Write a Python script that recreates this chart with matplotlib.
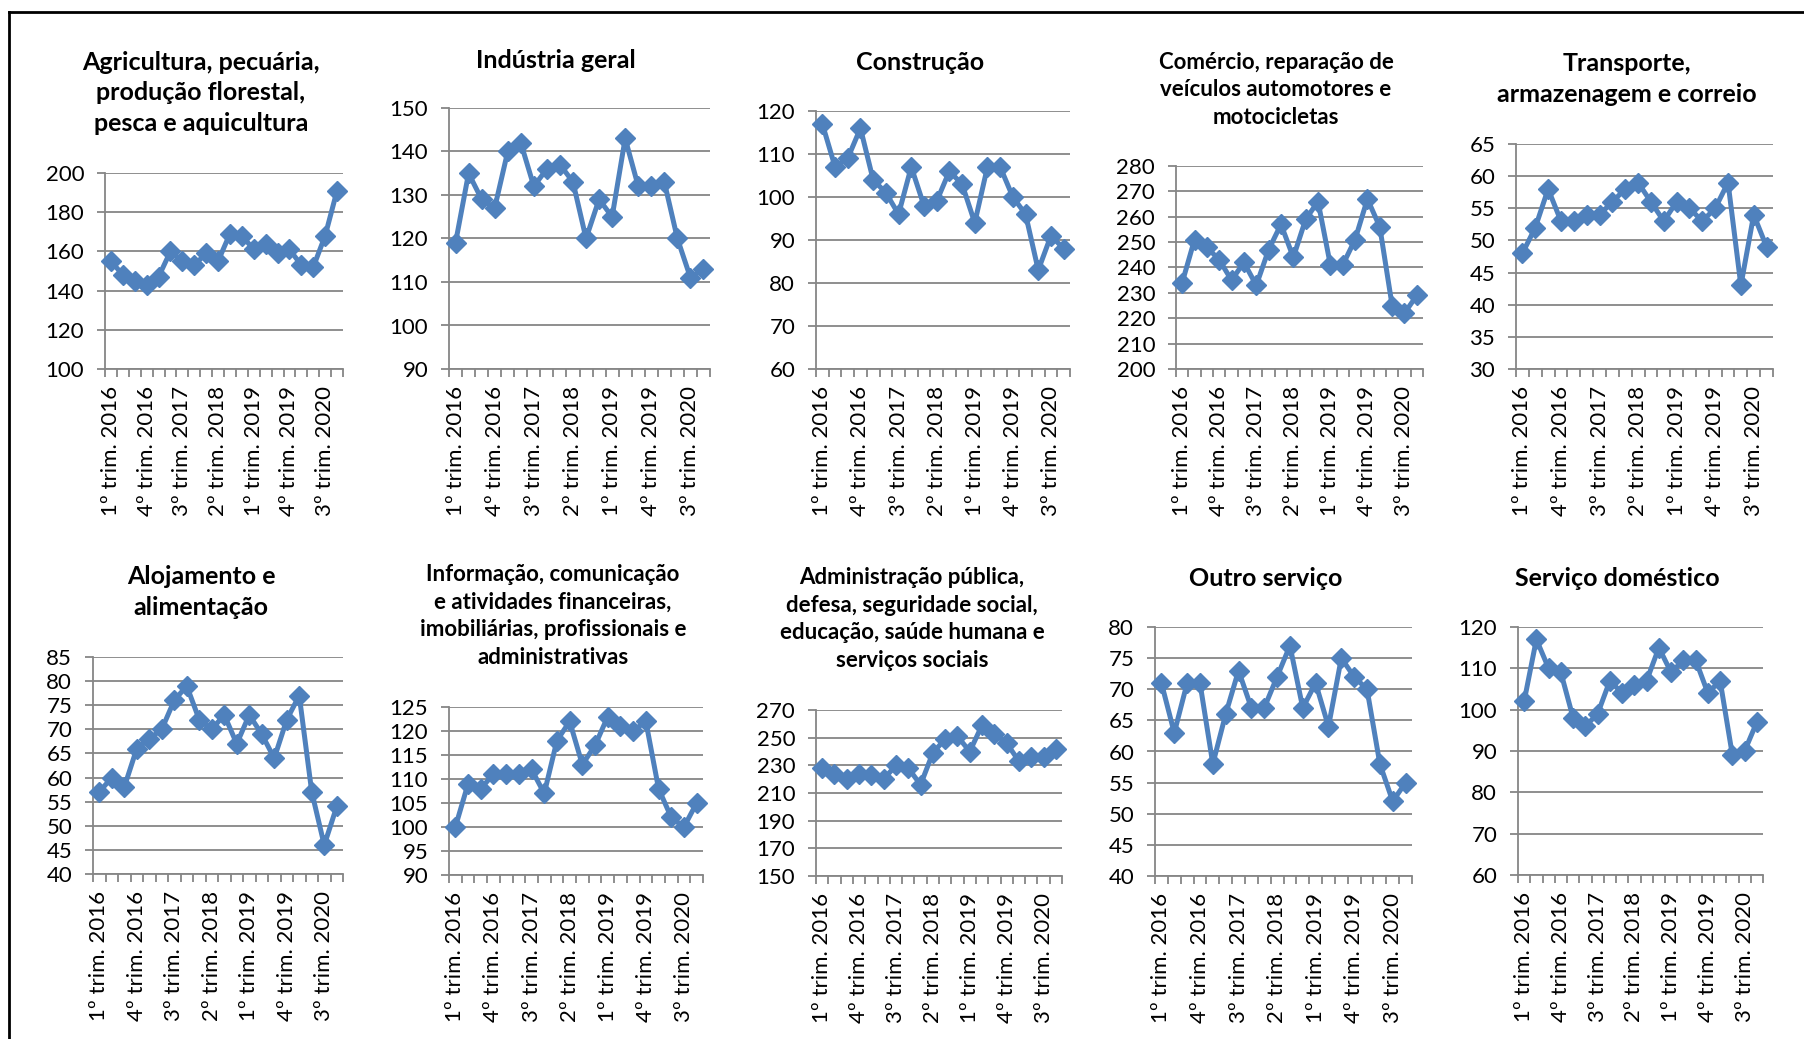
import matplotlib
matplotlib.use("Agg")
import matplotlib.pyplot as plt
from matplotlib.lines import Line2D
from matplotlib.ticker import FixedLocator

plt.rcParams['font.family'] = ['Lato', 'DejaVu Sans']

W, H = 1804, 1039

quarters = [
    "1º trim. 2016", "2º trim. 2016", "3º trim. 2016", "4º trim. 2016",
    "1º trim. 2017", "2º trim. 2017", "3º trim. 2017", "4º trim. 2017",
    "1º trim. 2018", "2º trim. 2018", "3º trim. 2018", "4º trim. 2018",
    "1º trim. 2019", "2º trim. 2019", "3º trim. 2019", "4º trim. 2019",
    "1º trim. 2020", "2º trim. 2020", "3º trim. 2020", "4º trim. 2020",
]

agricultura = [155, 148, 145, 143, 147, 160, 155, 153, 159, 155, 169, 168, 161, 164, 159, 161, 153, 152, 168, 191]
industria = [119, 135, 129, 127, 140, 142, 132, 136, 137, 133, 120, 129, 125, 143, 132, 132, 133, 120, 111, 113]
construcao = [117, 107, 109, 116, 104, 101, 96, 107, 98, 99, 106, 103, 94, 107, 107, 100, 96, 83, 91, 88]
comercio = [234, 251, 248, 243, 235, 242, 233, 247, 257, 244, 259, 266, 241, 241, 251, 267, 256, 225, 222, 229]
transporte = [48, 52, 58, 53, 53, 54, 54, 56, 58, 59, 56, 53, 56, 55, 53, 55, 59, 43, 54, 49]
alojamento = [57, 60, 58, 66, 68, 70, 76, 79, 72, 70, 73, 67, 73, 69, 64, 72, 77, 57, 46, 54]
informacao = [100, 109, 108, 111, 111, 111, 112, 107, 118, 122, 113, 117, 123, 121, 120, 122, 108, 102, 100, 105]
administracao = [228, 224, 220, 224, 223, 220, 230, 228, 216, 239, 249, 251, 240, 259, 253, 246, 233, 236, 236, 242]
outro = [71, 63, 71, 71, 58, 66, 73, 67, 67, 72, 77, 67, 71, 64, 75, 72, 70, 58, 52, 55]
domestico = [102, 117, 110, 109, 98, 96, 99, 107, 104, 106, 107, 115, 109, 112, 112, 104, 107, 89, 90, 97]

titles = [
    "Agricultura, pecuária,\nprodução florestal,\npesca e aquicultura",
    "Indústria geral",
    "Construção",
    "Comércio, reparação de\nveículos automotores e\nmotocicletas",
    "Transporte,\narmazenagem e correio",
    "Alojamento e\nalimentação",
    "Informação, comunicação\ne atividades financeiras,\nimobiliárias, profissionais e\nadministrativas",
    "Administração pública,\ndefesa, seguridade social,\neducação, saúde humana e\nserviços sociais",
    "Outro serviço",
    "Serviço doméstico",
]
series = [agricultura, industria, construcao, comercio, transporte,
          alojamento, informacao, administracao, outro, domestico]

# layout (pixels): left, right, top, bottom, ymin, ymax, step, title cx, title cy, title size
layout = [
    (105, 343, 173, 369, 100, 200, 20, 201, 93, 'big'),
    (449, 710, 108, 369, 90, 150, 10, 556, 60, 'big'),
    (816, 1070, 111, 369, 60, 120, 10, 920, 62, 'big'),
    (1176, 1423, 166, 369, 200, 280, 10, 1276, 90, 'small'),
    (1516, 1773, 144, 369, 30, 65, 5, 1627, 79, 'big'),
    (93, 343, 657, 874, 40, 85, 5, 201, 592, 'big'),
    (449, 703, 707, 875, 90, 125, 5, 553, 616, 'small'),
    (816, 1062, 710, 876, 150, 270, 20, 912, 619, 'small'),
    (1155, 1412, 627, 876, 40, 80, 5, 1266, 579, 'big'),
    (1518, 1763, 627, 875, 60, 120, 10, 1617, 579, 'big'),
]

LINE = '#4F81BD'
GRID = '#868686'

fig = plt.figure(figsize=(W / 100, H / 100), dpi=100)
fig.patch.set_facecolor('white')

xs = list(range(len(quarters)))
for (l, r, t, b, ymin, ymax, step, tcx, tcy, tsz), vals, title in zip(layout, series, titles):
    ax = fig.add_axes([l / W, 1 - b / H, (r - l) / W, (b - t) / H])
    ax.set_xlim(-0.5, len(quarters) - 0.5)
    ax.set_ylim(ymin, ymax)
    ax.yaxis.set_major_locator(FixedLocator(list(range(ymin, ymax + 1, step))))
    ax.grid(axis='y', color=GRID, lw=1.3)
    ax.set_axisbelow(True)
    for s in ('top', 'right'):
        ax.spines[s].set_visible(False)
    for s in ('left', 'bottom'):
        ax.spines[s].set_color(GRID)
        ax.spines[s].set_linewidth(1.3)
    ax.xaxis.set_major_locator(FixedLocator(xs[::3]))
    ax.set_xticklabels(quarters[::3], rotation=90, fontsize=16)
    ax.xaxis.set_minor_locator(FixedLocator([i - 0.5 for i in range(len(quarters) + 1)]))
    ax.tick_params(axis='x', which='major', length=0, pad=12)
    ax.tick_params(axis='x', which='minor', length=6, width=1.3, color=GRID, direction='out')
    ax.tick_params(axis='y', which='major', length=6, width=1.3, color=GRID, labelsize=16, pad=9)
    ax.plot(xs, vals, color=LINE, lw=3.6, marker='D', ms=10.5, mfc=LINE, mec=LINE,
            clip_on=False, zorder=5)
    fs = 18 if tsz == 'big' else 16
    fig.text(tcx / W, 1 - tcy / H, title, ha='center', va='center', fontsize=fs,
             fontweight='bold', linespacing=1.38, multialignment='center')

# border lines (top and left, as in the reference)
fig.add_artist(Line2D([9 / W, 1], [1 - 12 / H, 1 - 12 / H], transform=fig.transFigure,
                      color='black', lw=2))
fig.add_artist(Line2D([9 / W, 9 / W], [0, 1 - 12 / H], transform=fig.transFigure,
                      color='black', lw=2))

fig.savefig('out.png', dpi=100, facecolor='white')
